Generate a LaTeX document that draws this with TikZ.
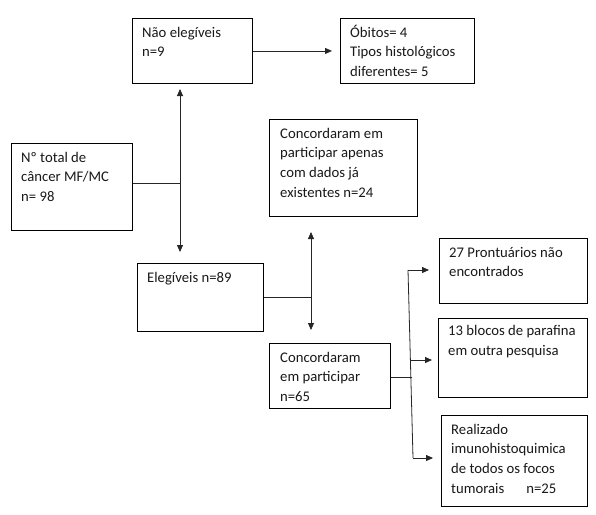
\documentclass[tikz,border=0pt]{standalone}
\usepackage{fontspec}
\setmainfont{Carlito}
\usetikzlibrary{arrows.meta}
\tikzset{
  box/.style={draw=black, line width=0.9pt, rectangle, inner sep=0pt, anchor=north west},
  txt/.style={anchor=north west, inner sep=0pt, align=left, text=black!90,
    font=\fontsize{14.7}{19.6}\selectfont},
  conn/.style={draw=black!85, line width=0.8pt},
  arr/.style={conn, -{Triangle[length=7pt,width=6pt]}},
  dbl/.style={conn, {Triangle[length=7pt,width=6pt]}-{Triangle[length=7pt,width=6pt]}}
}
\begin{document}
\begin{tikzpicture}[x=1pt,y=-1pt]
\useasboundingbox[fill=white] (0,0) rectangle (596,514);
% boxes
\node[box, minimum width=120pt, minimum height=65pt] (ne) at (132,18) {};
\node[box, minimum width=134pt, minimum height=65pt] (ob) at (340,18) {};
\node[box, minimum width=121pt, minimum height=87pt] (tot) at (11,143) {};
\node[box, minimum width=148pt, minimum height=97pt] (ap) at (269,119) {};
\node[box, minimum width=126pt, minimum height=68pt] (el) at (137,263) {};
\node[box, minimum width=121pt, minimum height=65pt] (cp) at (269,343) {};
\node[box, minimum width=148pt, minimum height=65pt] (pr) at (439,238) {};
\node[box, minimum width=149pt, minimum height=79pt] (bl) at (438,318) {};
\node[box, minimum width=146pt, minimum height=91pt] (re) at (441,415) {};
% texts
\node[txt] (tne) at ([shift={(10pt,-5.3pt)}]ne.north west) {\strut Não elegíveis\\n=9};
\node[txt] (tob) at ([shift={(10pt,-5.3pt)}]ob.north west) {\strut Óbitos= 4\\Tipos histológicos\\diferentes= 5};
\node[txt] (ttot) at ([shift={(10pt,-5.3pt)}]tot.north west) {\strut Nº total de\\câncer MF/MC\\n= 98};
\node[txt] (tap) at ([shift={(11pt,-5.3pt)}]ap.north west) {\strut Concordaram em\\participar apenas\\com dados já\\existentes n=24};
\node[txt] (tel) at ([shift={(10pt,-5.3pt)}]el.north west) {\strut Elegíveis n=89};
\node[txt] (tcp) at ([shift={(11pt,-5.3pt)}]cp.north west) {\strut Concordaram\\em participar\\n=65};
\node[txt] (tpr) at ([shift={(10pt,-5.3pt)}]pr.north west) {\strut 27 Prontuários não\\encontrados};
\node[txt] (tbl) at ([shift={(10pt,-4pt)}]bl.north west) {\strut 13 blocos de parafina\\em outra pesquisa};
\node[txt] (tre) at ([shift={(10pt,-5.3pt)}]re.north west) {\strut Realizado\\imunohistoquimica\\de todos os focos\\tumorais\hspace{22pt}n=25};
% junction coordinates
\coordinate (j1) at (180,183);
\coordinate (v1t) at (180,89);
\coordinate (v1b) at (180,252);
\coordinate (j2) at (311,297);
\coordinate (v2t) at (311,232);
\coordinate (v2b) at (311,330);
\coordinate (t3) at (408,270);
\coordinate (m3) at (410.5,360);
\coordinate (j3) at (411.5,377);
\coordinate (b3) at (413,458);
% connectors
\draw[conn] (j1 -| tot.east) -- (j1);
\draw[dbl] (v1t) -- (v1b);
\draw[arr, shorten >=8pt] (ne.east) -- (ob.west);
\draw[conn] (j2 -| el.east) -- (j2);
\draw[dbl] (v2t) -- (v2b);
\draw[conn] (j3 -| cp.east) -- (j3);
\draw[conn] (t3) -- (b3);
\draw[arr, shorten >=10pt] (t3) -- (t3 -| pr.west);
\draw[arr, shorten >=6pt] (m3) -- (m3 -| bl.west);
\draw[arr, shorten >=8pt] (b3) -- (b3 -| re.west);
\end{tikzpicture}
\end{document}
